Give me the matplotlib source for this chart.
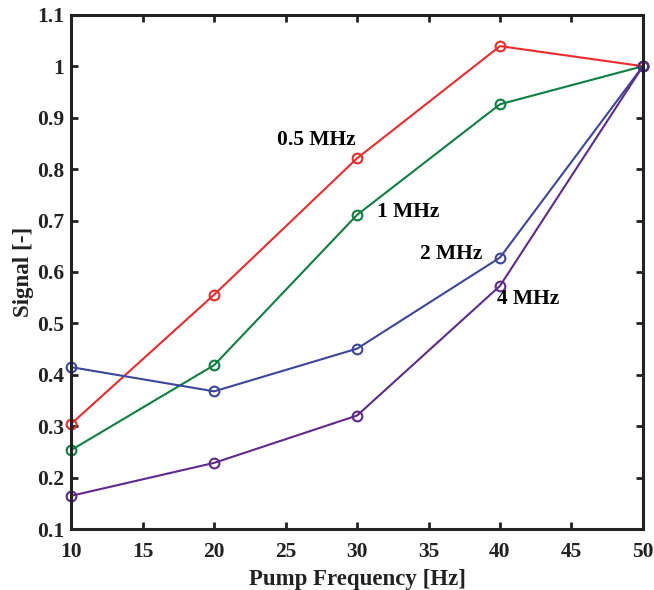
import matplotlib
matplotlib.use("Agg")
import matplotlib.pyplot as plt

freq = [10, 20, 30, 40, 50]
sig_05 = [0.305, 0.556, 0.821, 1.039, 1.0]
sig_1 = [0.254, 0.419, 0.711, 0.926, 1.0]
sig_2 = [0.415, 0.368, 0.451, 0.628, 1.0]
sig_4 = [0.165, 0.229, 0.321, 0.573, 1.0]

labels = ["0.5 MHz", "1 MHz", "2 MHz", "4 MHz"]
colors = ["#ee2b2b", "#0b8040", "#3c46a0", "#5e2a8e"]
label_pos = [(24.4, 0.857), (31.4, 0.717), (34.4, 0.635), (39.8, 0.548)]

plt.rcParams["font.family"] = ["Liberation Serif", "DejaVu Serif"]
plt.rcParams["font.weight"] = "bold"

fig = plt.figure(figsize=(6.54, 5.9), dpi=100)
ax = fig.add_axes([0.109, 0.103, 0.874, 0.872])

series = [sig_05, sig_1, sig_2, sig_4]
for s, c in zip(series, colors):
    ax.plot(freq, s, color=c, lw=1.5, marker="o", ms=7, mfc="none", mew=1.5, clip_on=False)

for lab, (x, y) in zip(labels, label_pos):
    ax.text(x, y, lab, fontsize=15.5, fontweight="bold", va="center", ha="left")

ax.set_xlim(10, 50)
ax.set_ylim(0.1, 1.1)
ax.set_xticks(range(10, 51, 5))
ax.set_yticks([0.1, 0.2, 0.3, 0.4, 0.5, 0.6, 0.7, 0.8, 0.9, 1.0, 1.1])
ax.set_yticklabels(["0.1", "0.2", "0.3", "0.4", "0.5", "0.6", "0.7", "0.8", "0.9", "1", "1.1"])
ax.tick_params(direction="in", top=True, right=True, length=5, width=2,
               labelsize=15.5, colors="#222222", pad=5)
ax.tick_params(axis="x", pad=9)
for lab in ax.get_xticklabels() + ax.get_yticklabels():
    lab.set_fontweight("bold")
for sp in ax.spines.values():
    sp.set_linewidth(2.2)
    sp.set_color("#222222")

ax.set_xlabel("Pump Frequency [Hz]", fontsize=16.5, fontweight="bold", color="#222222", labelpad=5)
ax.set_ylabel("Signal [-]", fontsize=16.5, fontweight="bold", color="#222222", labelpad=2)

fig.savefig("out.png", dpi=100)
